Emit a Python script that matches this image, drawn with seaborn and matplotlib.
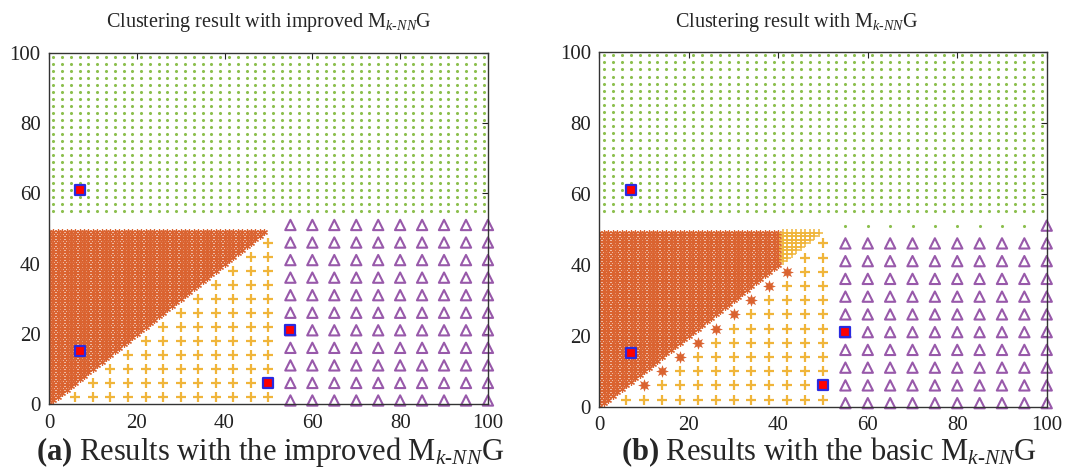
#!/usr/bin/env python3
"""
Side-by-side clustering results: improved vs basic Mk-NNG.
"""

import numpy as np
import pandas as pd
import matplotlib
matplotlib.use("Agg")
import matplotlib.pyplot as plt
from matplotlib.markers import MarkerStyle
import seaborn as sns

# Set style
sns.set_style("white")
plt.rcParams['font.family'] = ['Liberation Serif', 'DejaVu Serif']
plt.rcParams['mathtext.fontset'] = 'custom'
plt.rcParams['mathtext.rm'] = 'Liberation Serif'
plt.rcParams['mathtext.it'] = 'Liberation Serif:italic'
plt.rcParams['mathtext.bf'] = 'Liberation Serif:bold'

# ---- data (grids) ----
# sparse top cluster (green dots)
green_x = list(range(1, 100, 2))
green_y = list(range(55, 100, 2))
# dense triangle (kept where x <= y)
dense_x = list(range(0, 50))
dense_y = list(range(0, 50))
# sparse lower grid (kept where y < x)
sparse_x = [2, 6, 10, 14, 18, 22, 26, 30, 34, 38, 42, 46, 50]
sparse_y = [2, 6, 10, 14, 18, 22, 26, 30, 34, 38, 42, 46]
# right block (purple triangles)
tri_x = [55, 60, 65, 70, 75, 80, 85, 90, 95, 100]
tri_y = [1, 6, 11, 16, 21, 26, 31, 36, 41, 46, 51]
# cluster seeds
center_x = [7, 7, 55, 50]
center_y = [61, 15, 21, 6]

# basic Mk-NNG differences
b_split_x = 40                      # dense points right of this go to the yellow cluster
b_diag_x = [10, 14, 18, 22, 26, 30, 34, 38, 42]
b_diag_y = [6, 10, 14, 18, 22, 26, 30, 34, 38]
b_top_row_y = 51                    # triangle row that turns green (except x=100)

titles = [r'Clustering result with improved M$_{k\text{-}NN}$G',
          r'Clustering result with M$_{k\text{-}NN}$G']
captions = [r'$\mathbf{(a)}$ Results with the improved M$_{k\text{-}NN}$G',
            r'$\mathbf{(b)}$ Results with the basic M$_{k\text{-}NN}$G']

ORANGE = '#DA6330'
YELLOW = '#F0B53A'
PURPLE = '#9859AA'
GREEN = '#8CBF4E'


def grid(xs, ys):
    gx, gy = np.meshgrid(xs, ys)
    return pd.DataFrame({'x': gx.ravel(), 'y': gy.ravel()})


green = grid(green_x, green_y)
dense = grid(dense_x, dense_y)
dense = dense[dense.x <= dense.y]
sparse = grid(sparse_x, sparse_y)
sparse = sparse[sparse.y < sparse.x]
tri = grid(tri_x, tri_y)
centers = pd.DataFrame({'x': center_x, 'y': center_y})
diag = pd.DataFrame({'x': b_diag_x, 'y': b_diag_y})

asterisk = MarkerStyle((6, 2, 0))
open_tri = MarkerStyle('^', fillstyle='none')

fig = plt.figure(figsize=(10.67, 4.74), dpi=100)
ax1 = fig.add_axes([0.0459, 0.1477, 0.4114, 0.7405])
ax2 = fig.add_axes([0.5617, 0.1420, 0.4193, 0.7490])


def draw(ax, dense_orange, dense_yellow, sparse_yellow, diag_orange, tri_purple, green_pts):
    sns.scatterplot(data=green_pts, x='x', y='y', ax=ax, marker='o', s=5,
                    color=GREEN, linewidth=0)
    sns.scatterplot(data=dense_orange, x='x', y='y', ax=ax, marker=asterisk, s=18,
                    color=ORANGE, linewidth=0.9)
    if dense_yellow is not None:
        sns.scatterplot(data=dense_yellow, x='x', y='y', ax=ax, marker='+', s=26,
                        color=YELLOW, linewidth=1.1)
    sns.scatterplot(data=sparse_yellow, x='x', y='y', ax=ax, marker='+', s=55,
                    color=YELLOW, linewidth=1.6)
    if diag_orange is not None:
        sns.scatterplot(data=diag_orange, x='x', y='y', ax=ax, marker=(8, 1, 0), s=85,
                        color=ORANGE, linewidth=0)
    sns.scatterplot(data=tri_purple, x='x', y='y', ax=ax, marker=open_tri, s=55,
                    color=PURPLE, linewidth=1.5, clip_on=False)
    sns.scatterplot(data=centers, x='x', y='y', ax=ax, marker='s', s=45,
                    color='red', edgecolor='#2a2ae0', linewidth=1.6, zorder=5)

    ax.set_xlim(0, 100)
    ax.set_ylim(0, 100)
    ax.set_xticks([0, 20, 40, 60, 80, 100])
    ax.set_yticks([0, 20, 40, 60, 80, 100])
    ax.set_xlabel('')
    ax.set_ylabel('')
    ax.tick_params(direction='in', top=True, right=True, length=4, width=0.8,
                   labelsize=15, colors='#222222')
    ax.tick_params(axis='x', pad=7)
    ax.tick_params(axis='y', pad=6)
    for sp in ax.spines.values():
        sp.set_visible(True)
        sp.set_color('#333333')
        sp.set_linewidth(1.0)


# (a) improved
draw(ax1, dense, None, sparse, None, tri, green)

# (b) basic
dense_b_orange = dense[dense.x <= b_split_x]
dense_b_yellow = dense[dense.x > b_split_x]
is_diag = sparse.set_index(['x', 'y']).index.isin(diag.set_index(['x', 'y']).index)
sparse_b = sparse[~is_diag]
top_row = (tri.y == b_top_row_y) & (tri.x < 100)
tri_b = tri[~top_row]
green_b = pd.concat([green, tri[top_row]])
draw(ax2, dense_b_orange, dense_b_yellow, sparse_b, diag, tri_b, green_b)

fig.text(269 / 1067, 1 - 22 / 474, titles[0], ha='center', va='center', fontsize=14.5)
fig.text(797 / 1067, 1 - 22 / 474, titles[1], ha='center', va='center', fontsize=14.5)
fig.text(270 / 1067, 1 - 452 / 474, captions[0], ha='center', va='center', fontsize=22)
fig.text(829 / 1067, 1 - 452 / 474, captions[1], ha='center', va='center', fontsize=22)

plt.savefig('out.png', dpi=100)
print("saved out.png")
